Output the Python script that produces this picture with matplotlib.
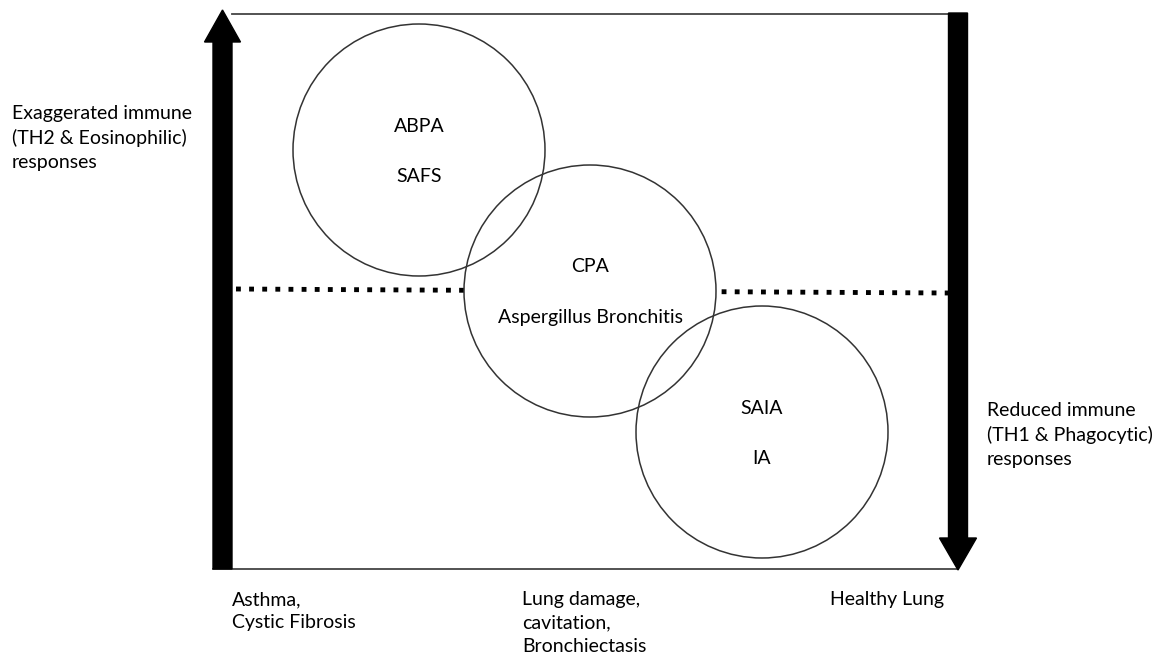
import matplotlib.pyplot as plt
from matplotlib.patches import Circle

plt.rcParams['font.family'] = ['Lato', 'DejaVu Sans']

# circles: centre x, centre y, radius (image pixels, y down)
circle_x = [419, 590, 762]
circle_y = [150, 291, 432]
circle_r = [126, 126, 126]
circle_labels = [['ABPA', 'SAFS'], ['CPA', 'Aspergillus Bronchitis'], ['SAIA', 'IA']]

left_label = 'Exaggerated immune\n(TH2 & Eosinophilic)\nresponses'
right_label = 'Reduced immune\n(TH1 & Phagocytic)\nresponses'
bottom_labels = ['Asthma,\nCystic Fibrosis', 'Lung damage,\ncavitation,\nBronchiectasis', 'Healthy Lung']
bottom_x = [232, 522, 830]

W, H = 1155, 657
fig = plt.figure(figsize=(W/100, H/100), dpi=100)
ax = fig.add_axes([0, 0, 1, 1])
ax.set_xlim(0, W)
ax.set_ylim(H, 0)
ax.axis('off')

# box edges
ax.plot([232, 950], [14, 14], color='#444444', lw=1.3, zorder=1)
ax.plot([213, 958], [569, 569], color='#444444', lw=1.3, zorder=1)

# dotted divider, hidden inside middle circle
ax.plot([236, 948], [289, 293], color='black', lw=3.5,
        linestyle=(0, (1, 1.7)), dash_capstyle='butt', zorder=1)
ax.add_patch(Circle((circle_x[1], circle_y[1]), circle_r[1], facecolor='white',
                    edgecolor='none', zorder=2))

for cx, cy, r, labs in zip(circle_x, circle_y, circle_r, circle_labels):
    ax.add_patch(Circle((cx, cy), r, facecolor='none', edgecolor='#333333',
                        lw=1.1, zorder=3))
    ax.text(cx, cy - 24, labs[0], ha='center', va='center', fontsize=14, zorder=4)
    ax.text(cx, cy + 27, labs[1], ha='center', va='center', fontsize=14, zorder=4)

# thick arrows
ax.arrow(222.5, 569, 0, -559, width=19, head_width=36, head_length=32,
         length_includes_head=True, color='black', zorder=5)
ax.arrow(958, 13, 0, 557, width=19, head_width=37, head_length=32,
         length_includes_head=True, color='black', zorder=5)

ax.text(12, 138, left_label, ha='left', va='center', fontsize=14, linespacing=1.45)
ax.text(987, 435, right_label, ha='left', va='center', fontsize=14, linespacing=1.45)
for bx, lab in zip(bottom_x, bottom_labels):
    ax.text(bx, 591, lab, ha='left', va='top', fontsize=14, linespacing=1.45)

fig.savefig('out.png', dpi=100, facecolor='white')
